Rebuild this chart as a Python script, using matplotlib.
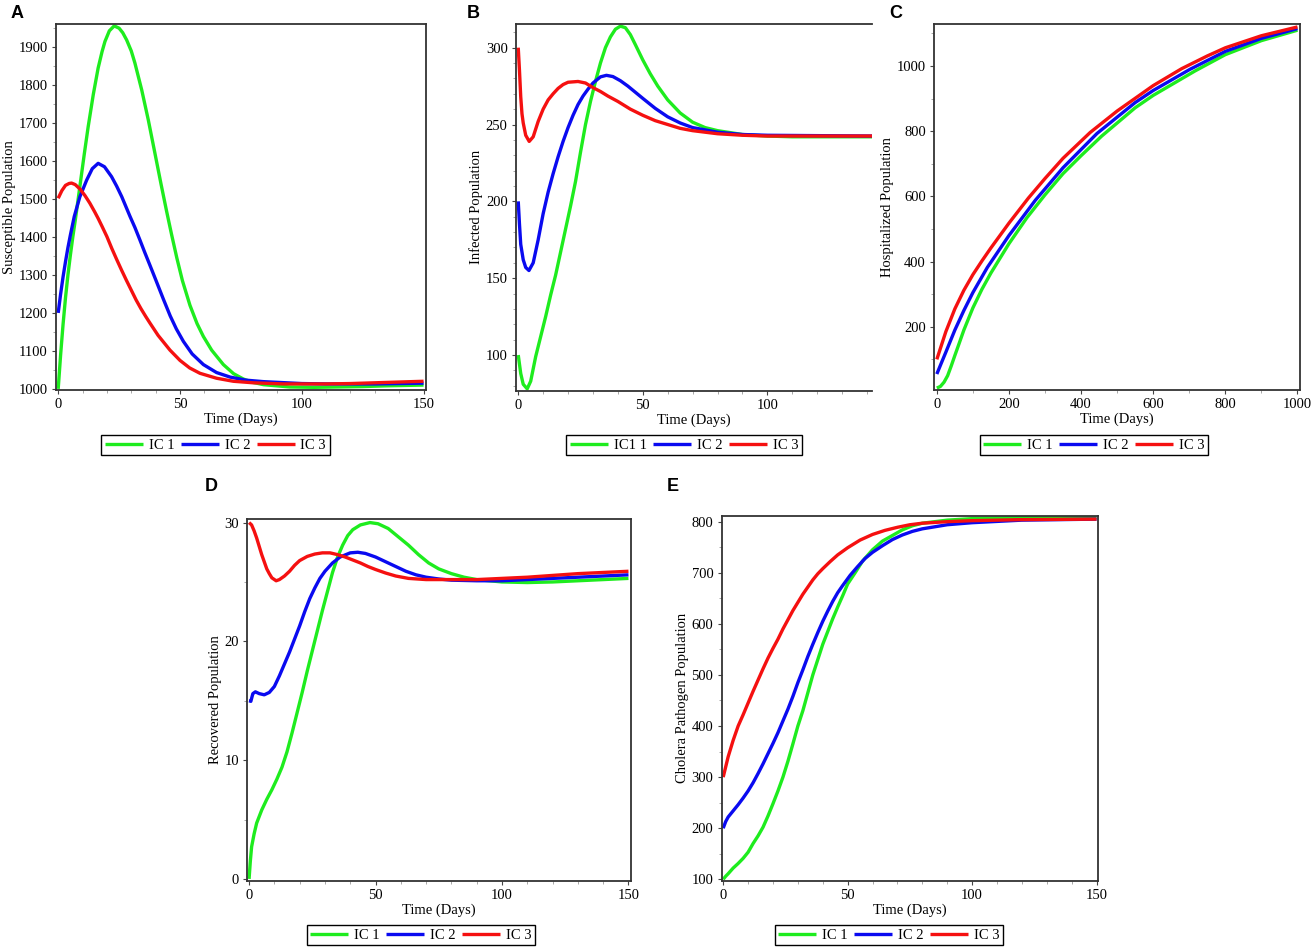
import matplotlib
matplotlib.use("Agg")
import matplotlib.pyplot as plt
from matplotlib.ticker import MultipleLocator

plt.rcParams['font.family'] = ['Liberation Serif', 'DejaVu Serif']

# colours of the three initial conditions
c1 = '#1eec1e'
c2 = '#0a0af0'
c3 = '#f51010'

# ---- A: susceptible ----
a_t1 = [0, 1, 2, 3, 4, 5, 6, 7.1, 8.9, 10.7, 12.3, 14.4, 16.4, 18, 19.2, 21, 23, 25, 26.5, 28.1,
        30, 31.5, 34.3, 37, 39.7, 42.2, 44.5, 46.5, 48.7, 51, 54.1, 57, 59.6, 63, 67.8, 72, 76,
        80, 84.3, 95, 105, 115, 125, 135, 150]
a_s1 = [1000, 1090, 1170, 1240, 1300, 1352, 1400, 1448, 1533, 1618, 1690, 1775, 1845, 1888, 1915,
        1943, 1956, 1950, 1938, 1919, 1890, 1858, 1787, 1708, 1621, 1540, 1468, 1408, 1345, 1285,
        1220, 1172, 1138, 1102, 1064, 1040, 1026, 1017, 1011, 1005, 1004, 1005, 1006, 1008, 1010]
a_t2 = [0, 1, 2, 3, 4, 5, 6.6, 8.9, 11.7, 14, 16.4, 19, 21.9, 24, 26.1, 29.5, 31.5, 33.5, 35.5,
        37.7, 40, 43.2, 46, 48.5, 51.4, 55, 59.6, 65, 70.6, 77, 84.3, 100, 110, 120, 130, 140, 150]
a_s2 = [1200, 1250, 1295, 1335, 1372, 1405, 1454, 1506, 1550, 1580, 1594, 1585, 1559, 1534, 1506,
        1454, 1425, 1393, 1360, 1325, 1288, 1236, 1192, 1158, 1125, 1092, 1064, 1043, 1031, 1023,
        1019, 1014, 1013, 1013, 1013, 1014, 1015]
a_t3 = [0, 1.5, 3, 4.5, 5.5, 7, 9, 11, 13, 15, 16.4, 18, 20, 22, 24, 26, 28, 30, 32, 34, 36, 37.7,
        41, 45.9, 50, 54, 58.2, 65, 71.9, 80, 92.5, 100, 110, 120, 130, 140, 150]
a_s3 = [1502, 1522, 1536, 1541, 1542, 1538, 1526, 1509, 1489, 1466, 1449, 1428, 1401, 1370, 1341,
        1313, 1286, 1260, 1234, 1211, 1190, 1173, 1141, 1102, 1075, 1055, 1041, 1028, 1020, 1016,
        1013, 1013, 1013, 1014, 1016, 1018, 1020]

# ---- B: infected ----
b_t1 = [0, 1, 2, 3.6, 5, 7, 9, 11, 13, 15, 17, 19, 21, 23, 25, 27, 29, 31, 33, 35, 37, 39, 41,
        43, 45, 47, 50, 53, 56, 60, 65, 70, 75, 80, 90, 100, 110, 142]
b_i1 = [100, 88, 81, 78, 83, 99, 112, 125, 139, 152, 167, 182, 197, 213, 232, 250, 265, 278, 290,
        300, 307, 312, 314, 313, 308.5, 302, 292, 283, 275, 266, 257.5, 251.5, 248, 246, 243.5,
        242.5, 242, 242]
b_t2 = [0, 0.5, 1, 2, 3, 4.3, 6, 8, 10, 12, 14, 16, 18, 20, 22, 24, 26, 28, 30, 33, 35.4, 38, 41,
        44, 47, 50, 55, 60, 65, 70, 80, 90, 100, 142]
b_i2 = [200, 185, 172, 162, 157, 155, 160, 175, 192, 206, 218, 229, 239, 248, 256, 263, 268.5,
        273, 277, 281, 282, 281.2, 278.5, 275, 271, 267, 260.5, 255, 251, 248, 245, 243.5, 243,
        242.5]
b_t3 = [0, 0.5, 1, 1.5, 2, 3, 4.4, 6, 8, 10, 12, 14, 16, 18, 20, 24, 27, 30, 33, 36, 40, 45, 50,
        55, 60, 65, 70, 80, 90, 100, 142]
b_i3 = [300, 285, 268, 257, 251, 243, 239, 242, 252, 260, 266, 270, 273.5, 276, 277.5, 278, 277,
        274, 271.5, 268.5, 265, 260, 256, 252.5, 250, 247.5, 246, 244, 243, 242.5, 242.5]

# ---- C: hospitalized ----
c_t1 = [0, 10, 20, 30, 40, 50, 60, 75, 100, 125, 150, 200, 250, 300, 350, 400, 457, 550, 600,
        716, 800, 900, 1000]
c_h1 = [12, 17, 30, 50, 80, 112, 143, 190, 258, 315, 365, 455, 535, 605, 670, 725, 785, 872, 910,
        985, 1035, 1078, 1110]
c_t2 = [0, 10, 25, 50, 75, 100, 140, 200, 273, 350, 444, 550, 600, 702, 800, 900, 1000]
c_h2 = [55, 82, 122, 190, 250, 305, 382, 480, 588, 688, 793, 888, 925, 990, 1045, 1085, 1115]
c_t3 = [0, 25, 50, 75, 100, 125, 150, 200, 254, 300, 350, 425, 500, 600, 679, 750, 800, 900, 1000]
c_h3 = [100, 185, 255, 312, 360, 402, 442, 518, 595, 655, 717, 796, 862, 940, 992, 1031, 1056,
        1093, 1120]

# ---- D: recovered ----
d_t1 = [0, 0.5, 1, 2, 3, 5, 7, 9, 11, 13, 15, 17, 19, 21, 23, 25, 27, 29, 31, 33, 35, 37, 39, 41,
        44, 47.8, 51, 55, 59, 63, 67, 71, 75, 80, 85, 90, 100, 110, 120, 130, 140, 150]
d_r1 = [0, 1.5, 2.7, 3.8, 4.7, 5.8, 6.7, 7.5, 8.4, 9.4, 10.7, 12.3, 14.0, 15.7, 17.5, 19.2, 20.9,
        22.6, 24.2, 25.8, 27.1, 28.1, 28.9, 29.4, 29.8, 30.0, 29.9, 29.5, 28.8, 28.1, 27.3, 26.6,
        26.1, 25.7, 25.4, 25.2, 25.0, 24.95, 25.0, 25.1, 25.2, 25.3]
d_t2 = [0, 0.7, 1.5, 2.5, 4, 6, 8, 10, 12, 14, 16, 18, 20, 22, 24, 26, 28, 30, 33, 36, 40, 43, 46,
        50, 54, 58, 62, 66, 70, 75, 80, 90, 100, 110, 120, 130, 140, 150]
d_r2 = [15.0, 14.95, 15.6, 15.75, 15.6, 15.5, 15.7, 16.2, 17.1, 18.1, 19.1, 20.2, 21.3, 22.5, 23.6,
        24.5, 25.3, 25.9, 26.6, 27.1, 27.45, 27.5, 27.4, 27.1, 26.7, 26.3, 25.9, 25.6, 25.4, 25.25,
        25.15, 25.1, 25.1, 25.2, 25.3, 25.4, 25.5, 25.6]
d_t3 = [0, 1, 2, 3, 4, 5, 6, 7, 8, 9, 10.7, 12, 14, 16, 18, 20, 23, 26, 29, 32, 35, 38, 41, 44, 47,
        50, 54, 58, 63, 70, 80, 90, 100, 110, 120, 130, 140, 150]
d_r3 = [30.0, 29.8, 29.3, 28.7, 28.0, 27.3, 26.7, 26.1, 25.7, 25.35, 25.1, 25.2, 25.5, 25.9, 26.4,
        26.8, 27.15, 27.35, 27.45, 27.45, 27.3, 27.1, 26.85, 26.6, 26.3, 26.05, 25.75, 25.5, 25.3,
        25.2, 25.2, 25.2, 25.3, 25.4, 25.55, 25.7, 25.8, 25.9]

# ---- E: cholera pathogen ----
e_t1 = [0, 1, 2, 4, 6, 8, 10, 12, 14, 16, 18, 20, 22, 24, 26, 28, 30, 32, 34, 36, 38, 40, 42, 44,
        46, 48, 50, 53, 56, 60, 64, 68, 72, 76, 80, 90, 100, 120, 150]
e_b1 = [100, 106, 111, 122, 131, 141, 153, 170, 185, 202, 224, 248, 273, 300, 331, 365, 400, 430,
        465, 500, 530, 560, 585, 610, 633, 655, 678, 700, 723, 745, 762, 773, 784, 792, 797, 803,
        806, 808, 808]
e_t2 = [0, 1, 2, 4, 6, 8, 10, 12, 14, 16, 18, 20, 22, 24, 26, 28, 30, 32, 34, 36, 38, 40, 42, 44,
        46, 48, 51, 54, 57, 60, 64, 68, 72, 76, 80, 90, 100, 120, 150]
e_b2 = [200, 213, 222, 234, 246, 259, 273, 289, 307, 326, 346, 366, 387, 410, 433, 458, 485, 510,
        536, 560, 583, 605, 625, 644, 661, 675, 695, 712, 728, 740, 753, 765, 774, 781, 786, 794,
        798, 803, 805]
e_t3 = [0, 1, 2, 4, 6, 8, 10, 12, 14, 16, 18, 20, 22, 24, 26, 28, 30, 32, 34, 36, 38, 40, 43, 46,
        50, 55, 60, 65, 70, 75, 80, 90, 100, 120, 150]
e_b3 = [300, 320, 340, 372, 400, 422, 445, 468, 490, 512, 533, 552, 570, 590, 608, 626, 642, 658,
        672, 686, 698, 708, 722, 735, 749, 764, 775, 783, 789, 794, 797, 800, 802, 804, 805]

fig = plt.figure(figsize=(13.15, 9.5), dpi=100)


def panel(rect, series, labels, xlim, ylim, xmaj, xmin, ymaj, ymin, ylabel, leg_xy, letter, letter_xy,
          right_spine=True):
    ax = fig.add_axes(rect)
    for (t, v), col, lab in zip(series, [c1, c2, c3], labels):
        ax.plot(t, v, color=col, lw=2.4, label=lab, solid_capstyle='butt', solid_joinstyle='round')
    ax.set_xlim(xlim)
    ax.set_ylim(ylim)
    ax.xaxis.set_major_locator(MultipleLocator(xmaj))
    ax.xaxis.set_minor_locator(MultipleLocator(xmin))
    ax.yaxis.set_major_locator(MultipleLocator(ymaj))
    ax.yaxis.set_minor_locator(MultipleLocator(ymin))
    ax.tick_params(which='major', direction='out', length=3, width=0.8, labelsize=10.5, pad=3,
                   color='#444444')
    ax.tick_params(which='minor', direction='out', length=2, width=0.6, color='#999999')
    for s in ax.spines.values():
        s.set_linewidth(1.3)
        s.set_color('#333333')
    if not right_spine:
        ax.spines['right'].set_visible(False)
    ax.set_xlabel('Time (Days)', fontsize=10.5, labelpad=1)
    ax.set_ylabel(ylabel, fontsize=10.5, labelpad=2)
    ax.legend(loc='center', bbox_to_anchor=leg_xy, bbox_transform=fig.transFigure, ncol=3,
              fontsize=10.5, frameon=True, fancybox=False, edgecolor='black', framealpha=1,
              handlelength=2.6, handletextpad=0.4, columnspacing=0.45, borderpad=0.25,
              borderaxespad=0)
    ax.get_legend().get_frame().set_linewidth(1.0)
    fig.text(letter_xy[0] / 1315, 1 - letter_xy[1] / 950, letter, family='Liberation Sans',
             fontweight='bold', fontsize=13, va='top', ha='left')
    return ax


ic = ['IC 1', 'IC 2', 'IC 3']

panel([56 / 1315, 1 - 390 / 950, 370 / 1315, 366 / 950],
      [(a_t1, a_s1), (a_t2, a_s2), (a_t3, a_s3)], ic,
      (-0.9, 151), (997, 1961), 50, 10, 100, 50, 'Susceptible Population',
      (215.5 / 1315, 1 - 445 / 950), 'A', (11, 5))

panel([516 / 1315, 1 - 390.7 / 950, 356 / 1315, 366.7 / 950],
      [(b_t1, b_i1), (b_t2, b_i2), (b_t3, b_i3)], ['IC1 1', 'IC 2', 'IC 3'],
      (-0.9, 142), (76.8, 315.4), 50, 10, 50, 10, 'Infected Population',
      (684 / 1315, 1 - 445 / 950), 'B', (467, 5), right_spine=False)

panel([934.3 / 1315, 1 - 390 / 950, 365.7 / 1315, 366 / 950],
      [(c_t1, c_h1), (c_t2, c_h2), (c_t3, c_h3)], ic,
      (-7, 1007), (6, 1129), 200, 100, 200, 100, 'Hospitalized Population',
      (1094 / 1315, 1 - 445 / 950), 'C', (889, 5))

panel([247.3 / 1315, 1 - 880.7 / 950, 383.7 / 1315, 361.7 / 950],
      [(d_t1, d_r1), (d_t2, d_r2), (d_t3, d_r3)], ic,
      (-0.7, 151), (-0.15, 30.3), 50, 10, 10, 5, 'Recovered Population',
      (421 / 1315, 1 - 935 / 950), 'D', (205, 478))

panel([721.7 / 1315, 1 - 880.7 / 950, 376.6 / 1315, 365 / 950],
      [(e_t1, e_b1), (e_t2, e_b2), (e_t3, e_b3)], ic,
      (-0.6, 150.7), (97.3, 811.7), 50, 10, 100, 50, 'Cholera Pathogen Population',
      (889 / 1315, 1 - 935 / 950), 'E', (667, 478))

fig.savefig('out.png', dpi=100)
